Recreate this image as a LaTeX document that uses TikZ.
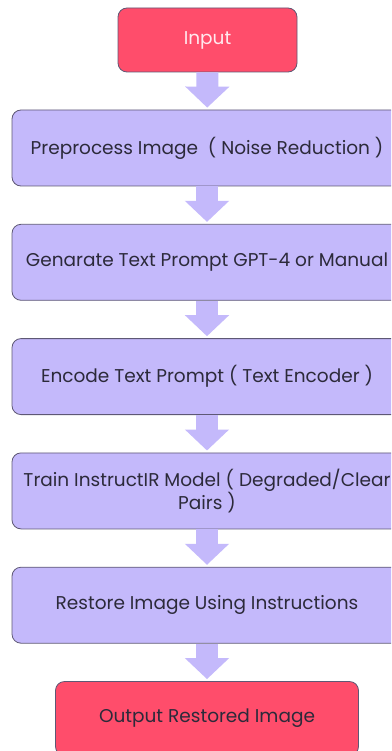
\documentclass[tikz,border=0pt]{standalone}
\usepackage{fontspec}
\setmainfont{Poppins}
\usepackage{tikz}
\usetikzlibrary{positioning,arrows.meta}
\definecolor{redbox}{HTML}{FF4D6B}
\definecolor{lilac}{HTML}{C4B9FB}
\definecolor{edge}{HTML}{5E5875}
\definecolor{ink}{HTML}{2C2A3A}
\definecolor{paper}{HTML}{FFE9EE}
\tikzset{
  stepbox/.style={draw=edge, fill=lilac, line width=0.8pt, rounded corners=9pt,
    minimum width=390pt, minimum height=76pt, align=center, text=ink, font=\fontsize{18.5}{21.5}\selectfont},
  endbox/.style={draw=edge, fill=redbox, line width=0.8pt, rounded corners=9pt,
    minimum height=64pt, align=center, font=\fontsize{18.5}{21.5}\selectfont},
  flow/.style={draw=lilac, line width=22pt, shorten >=2pt,
    -{Triangle[width=43pt,length=21pt]}},
}
\begin{document}
\begin{tikzpicture}[x=1pt,y=-1pt,node distance=37.5pt]
  \useasboundingbox (0,0) rectangle (391,751);
  \clip (0,0) rectangle (391,751);
  \fill[white] (0,0) rectangle (391,751);
  \node[endbox, minimum width=179pt, text=paper] (in) at (207.5,40) {\raisebox{-3pt}{Input}};
  \node[stepbox] (pre) at (207,148) {Preprocess Image \ ( Noise Reduction )};
  \node[stepbox, below=of pre] (gen) {Genarate Text Prompt GPT-4 or Manual};
  \node[stepbox, below=of gen] (enc) {Encode Text Prompt ( Text Encoder )};
  \node[stepbox, below=of enc] (train) {Train InstructIR Model ( Degraded/Clear\\Pairs )};
  \node[stepbox, below=of train] (rest) {Restore Image Using Instructions};
  \node[endbox, minimum width=303pt, minimum height=74pt, text=ink, below=of rest] (out) {Output Restored Image};
  \foreach \a/\b in {in/pre,pre/gen,gen/enc,enc/train,train/rest,rest/out}
    \draw[flow] (\a) -- (\b);
\end{tikzpicture}
\end{document}
